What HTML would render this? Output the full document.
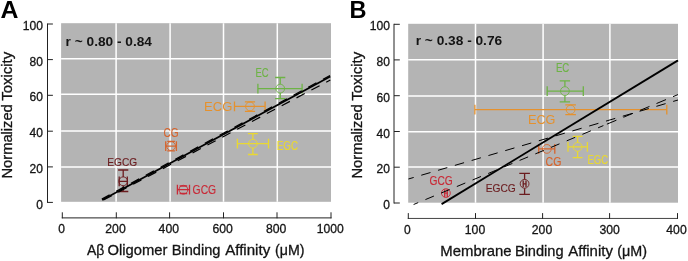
<!DOCTYPE html>
<html lang="en"><head><meta charset="utf-8"><title>Figure</title>
<style>
html,body{margin:0;padding:0;background:#fff;}
body{width:688px;height:261px;overflow:hidden;}
svg{display:block;will-change:transform;font-family:"Liberation Sans",sans-serif;}
</style></head><body>
<svg width="688" height="261" viewBox="0 0 688 261">
<rect width="688" height="261" fill="#fff"/>
<rect x="61.1" y="23.2" width="269.9" height="178.6" fill="#b4b4b4"/>
<path stroke="#fff" stroke-width="1.5" fill="none" d="M61.1 58.7H331.0M61.1 94.3H331.0M61.1 130.9H331.0M61.1 166.9H331.0M116.1 23.2V201.8M170.1 23.2V201.8M223.5 23.2V201.8M277.3 23.2V201.8"/>
<path stroke="#222" stroke-width="1" fill="none" d="M47.5 23.5V202.9M47.5 24.0H52.9M47.5 59.6H52.9M47.5 95.3H52.9M47.5 131.2H52.9M47.5 166.9H52.9M47.5 202.4H52.9M62.3 212.3V218.3M116.3 212.3V218.3M169.6 212.3V218.3M223.5 212.3V218.3M277.0 212.3V218.3M331.0 212.3V218.3"/>
<path stroke="#222" stroke-width="1.0" fill="none" d="M61.8 217.9H331.5"/>
<text x="42.9" y="30.1" font-size="12.7" fill="#141414" stroke="#141414" stroke-width="0.3" text-anchor="end" textLength="20.2" lengthAdjust="spacingAndGlyphs">100</text>
<text x="42.9" y="65.7" font-size="12.7" fill="#141414" stroke="#141414" stroke-width="0.3" text-anchor="end" textLength="13.4" lengthAdjust="spacingAndGlyphs">80</text>
<text x="42.9" y="101.4" font-size="12.7" fill="#141414" stroke="#141414" stroke-width="0.3" text-anchor="end" textLength="13.4" lengthAdjust="spacingAndGlyphs">60</text>
<text x="42.9" y="137.3" font-size="12.7" fill="#141414" stroke="#141414" stroke-width="0.3" text-anchor="end" textLength="13.4" lengthAdjust="spacingAndGlyphs">40</text>
<text x="42.9" y="173.0" font-size="12.7" fill="#141414" stroke="#141414" stroke-width="0.3" text-anchor="end" textLength="13.4" lengthAdjust="spacingAndGlyphs">20</text>
<text x="42.9" y="208.5" font-size="12.7" fill="#141414" stroke="#141414" stroke-width="0.3" text-anchor="end" textLength="6.7" lengthAdjust="spacingAndGlyphs">0</text>
<text x="61.5" y="233.1" font-size="12.7" fill="#141414" stroke="#141414" stroke-width="0.3" text-anchor="middle" textLength="6.7" lengthAdjust="spacingAndGlyphs">0</text>
<text x="115.5" y="233.1" font-size="12.7" fill="#141414" stroke="#141414" stroke-width="0.3" text-anchor="middle" textLength="20.4" lengthAdjust="spacingAndGlyphs">200</text>
<text x="168.8" y="233.1" font-size="12.7" fill="#141414" stroke="#141414" stroke-width="0.3" text-anchor="middle" textLength="20.4" lengthAdjust="spacingAndGlyphs">400</text>
<text x="222.7" y="233.1" font-size="12.7" fill="#141414" stroke="#141414" stroke-width="0.3" text-anchor="middle" textLength="20.4" lengthAdjust="spacingAndGlyphs">600</text>
<text x="276.2" y="233.1" font-size="12.7" fill="#141414" stroke="#141414" stroke-width="0.3" text-anchor="middle" textLength="20.4" lengthAdjust="spacingAndGlyphs">800</text>
<text x="330.2" y="233.1" font-size="12.7" fill="#141414" stroke="#141414" stroke-width="0.3" text-anchor="middle" textLength="27.0" lengthAdjust="spacingAndGlyphs">1000</text>
<text x="-178.5" y="0" font-size="14.2" fill="#141414" stroke="#141414" stroke-width="0.3" textLength="74.25" lengthAdjust="spacingAndGlyphs" transform="translate(12.1 0) rotate(-90)">Normalized</text>
<text x="-100.73" y="0" font-size="14.2" fill="#141414" stroke="#141414" stroke-width="0.3" textLength="48.96" lengthAdjust="spacingAndGlyphs" transform="translate(12.1 0) rotate(-90)">Toxicity</text>
<text x="86.97" y="254.7" font-size="14.2" fill="#141414" stroke="#141414" stroke-width="0.3" textLength="17.38" lengthAdjust="spacingAndGlyphs">Aβ</text>
<text x="107.51" y="254.7" font-size="14.2" fill="#141414" stroke="#141414" stroke-width="0.3" textLength="59.93" lengthAdjust="spacingAndGlyphs">Oligomer</text>
<text x="171.7" y="254.7" font-size="14.2" fill="#141414" stroke="#141414" stroke-width="0.3" textLength="48.84" lengthAdjust="spacingAndGlyphs">Binding</text>
<text x="225.17" y="254.7" font-size="14.2" fill="#141414" stroke="#141414" stroke-width="0.3" textLength="45.06" lengthAdjust="spacingAndGlyphs">Affinity</text>
<text x="275.12" y="254.7" font-size="14.2" fill="#141414" stroke="#141414" stroke-width="0.3" textLength="29.46" lengthAdjust="spacingAndGlyphs">(μM)</text>
<text x="0.5" y="18.2" font-size="24.4" fill="#000" font-weight="bold" textLength="17.95" lengthAdjust="spacingAndGlyphs">A</text>
<text x="65.61" y="46.2" font-size="13.0" fill="#141414" font-weight="bold" textLength="86.36" lengthAdjust="spacingAndGlyphs">r ~ 0.80 - 0.84</text>
<g stroke="#6db345" stroke-width="1.3" fill="none"><circle cx="280.2" cy="88.6" r="4.4" stroke-width="0.9"/><path d="M257.9 88.6H302.1M257.9 83.7V93.5M302.1 83.7V93.5M280.2 77.5V84.2M280.2 93.0V98.7M275.1 77.5H285.3M275.1 98.7H285.3"/></g>
<text x="255.43" y="76.8" font-size="12.4" fill="#6db345" stroke="#6db345" stroke-width="0.15" textLength="13.13" lengthAdjust="spacingAndGlyphs">EC</text>
<g stroke="#e5912d" stroke-width="1.3" fill="none"><circle cx="250.0" cy="106.4" r="4.4" stroke-width="0.9"/><path d="M234.5 106.4H265.1M234.5 101.5V111.3M265.1 101.5V111.3M250.0 110.8V111.3M244.9 101.8H255.1M244.9 111.3H255.1"/></g>
<text x="204.13" y="110.7" font-size="12.4" fill="#e5912d" textLength="28.34" lengthAdjust="spacingAndGlyphs">ECG</text>
<g stroke="#e9d832" stroke-width="1.3" fill="none"><circle cx="252.9" cy="143.7" r="4.4" stroke-width="0.9"/><path d="M237.4 143.7H268.5M237.4 138.8V148.6M268.5 138.8V148.6M252.9 133.7V139.3M252.9 148.1V154.5M248.0 133.7H257.8M248.0 154.5H257.8"/></g>
<text x="276.8" y="149.7" font-size="12.4" fill="#e9d832" stroke="#e9d832" stroke-width="0.15" textLength="21.27" lengthAdjust="spacingAndGlyphs">EGC</text>
<g stroke="#d6642d" stroke-width="1.3" fill="none"><circle cx="171.1" cy="146.1" r="4.4" stroke-width="0.9"/><path d="M165.7 146.1H176.4M165.7 141.2V151.0M176.4 141.2V151.0M167.3 141.4H174.9M167.3 150.8H174.9"/></g>
<text x="163.59" y="136.7" font-size="12.4" fill="#d6642d" stroke="#d6642d" stroke-width="0.15" textLength="15.15" lengthAdjust="spacingAndGlyphs">CG</text>
<g stroke="#6b1c1f" stroke-width="1.3" fill="none"><circle cx="123.2" cy="181.3" r="4.4" stroke-width="0.9"/><path d="M119.2 181.3H127.3M119.2 176.4V186.2M127.3 176.4V186.2M123.2 170.0V176.9M123.2 185.7V191.5M118.1 170.0H128.3M118.1 191.5H128.3"/></g>
<text x="107.27" y="165.5" font-size="11.8" fill="#6b1c1f" stroke="#6b1c1f" stroke-width="0.15" textLength="29.88" lengthAdjust="spacingAndGlyphs">EGCG</text>
<g stroke="#c92a37" stroke-width="1.3" fill="none"><circle cx="183.4" cy="189.7" r="4.4" stroke-width="0.9"/><path d="M177.4 189.7H189.5M177.4 184.8V194.6M189.5 184.8V194.6M179.6 186.0H187.2M179.6 193.5H187.2"/></g>
<text x="192.58" y="194.0" font-size="12.4" fill="#c92a37" stroke="#c92a37" stroke-width="0.15" textLength="23.58" lengthAdjust="spacingAndGlyphs">GCG</text>
<g stroke="#000" fill="none">
<path stroke-width="1.7" d="M102.2 199.9L330.3 76.5"/>
<path stroke-width="1.2" stroke-dasharray="9.3 7.5" stroke-dashoffset="15.8" d="M102.6 200.5L330.3 80.0"/>
<path stroke-width="1.2" stroke-dasharray="9.3 7.5" stroke-dashoffset="0.4" d="M101.8 199.1L330.0 75.5"/>
</g>
<rect x="408.2" y="23.8" width="269.8" height="178.9" fill="#b4b4b4"/>
<path stroke="#fff" stroke-width="1.5" fill="none" d="M408.2 59.7H678.0M408.2 95.9H678.0M408.2 131.8H678.0M408.2 167.0H678.0M475.5 23.8V202.7M543.1 23.8V202.7M609.9 23.8V202.7"/>
<path stroke="#222" stroke-width="1" fill="none" d="M394.0 23.8V203.5M394.0 24.3H399.8M394.0 59.9H399.8M394.0 95.7H399.8M394.0 131.5H399.8M394.0 167.2H399.8M394.0 203.0H399.8M408.3 213.1V218.85M475.5 213.1V218.85M542.6 213.1V218.85M609.6 213.1V218.85M677.5 213.1V218.85"/>
<path stroke="#222" stroke-width="0.85" fill="none" d="M407.8 218.45H678.0"/>
<text x="390.0" y="30.4" font-size="12.7" fill="#141414" stroke="#141414" stroke-width="0.3" text-anchor="end" textLength="20.2" lengthAdjust="spacingAndGlyphs">100</text>
<text x="390.0" y="66.0" font-size="12.7" fill="#141414" stroke="#141414" stroke-width="0.3" text-anchor="end" textLength="13.4" lengthAdjust="spacingAndGlyphs">80</text>
<text x="390.0" y="101.8" font-size="12.7" fill="#141414" stroke="#141414" stroke-width="0.3" text-anchor="end" textLength="13.4" lengthAdjust="spacingAndGlyphs">60</text>
<text x="390.0" y="137.6" font-size="12.7" fill="#141414" stroke="#141414" stroke-width="0.3" text-anchor="end" textLength="13.4" lengthAdjust="spacingAndGlyphs">40</text>
<text x="390.0" y="173.3" font-size="12.7" fill="#141414" stroke="#141414" stroke-width="0.3" text-anchor="end" textLength="13.4" lengthAdjust="spacingAndGlyphs">20</text>
<text x="390.0" y="209.1" font-size="12.7" fill="#141414" stroke="#141414" stroke-width="0.3" text-anchor="end" textLength="6.7" lengthAdjust="spacingAndGlyphs">0</text>
<text x="407.3" y="234.1" font-size="12.7" fill="#141414" stroke="#141414" stroke-width="0.3" text-anchor="middle" textLength="6.7" lengthAdjust="spacingAndGlyphs">0</text>
<text x="475.0" y="234.1" font-size="12.7" fill="#141414" stroke="#141414" stroke-width="0.3" text-anchor="middle" textLength="20.4" lengthAdjust="spacingAndGlyphs">100</text>
<text x="542.0" y="234.1" font-size="12.7" fill="#141414" stroke="#141414" stroke-width="0.3" text-anchor="middle" textLength="20.4" lengthAdjust="spacingAndGlyphs">200</text>
<text x="609.6" y="234.1" font-size="12.7" fill="#141414" stroke="#141414" stroke-width="0.3" text-anchor="middle" textLength="20.4" lengthAdjust="spacingAndGlyphs">300</text>
<text x="676.5" y="234.1" font-size="12.7" fill="#141414" stroke="#141414" stroke-width="0.3" text-anchor="middle" textLength="20.4" lengthAdjust="spacingAndGlyphs">400</text>
<text x="-178.5" y="0" font-size="14.2" fill="#141414" stroke="#141414" stroke-width="0.3" textLength="74.25" lengthAdjust="spacingAndGlyphs" transform="translate(361.6 0) rotate(-90)">Normalized</text>
<text x="-100.73" y="0" font-size="14.2" fill="#141414" stroke="#141414" stroke-width="0.3" textLength="48.96" lengthAdjust="spacingAndGlyphs" transform="translate(361.6 0) rotate(-90)">Toxicity</text>
<text x="440.38" y="255.7" font-size="14.2" fill="#141414" stroke="#141414" stroke-width="0.3" textLength="71.17" lengthAdjust="spacingAndGlyphs">Membrane</text>
<text x="514.9" y="255.7" font-size="14.2" fill="#141414" stroke="#141414" stroke-width="0.3" textLength="48.73" lengthAdjust="spacingAndGlyphs">Binding</text>
<text x="568.27" y="255.7" font-size="14.2" fill="#141414" stroke="#141414" stroke-width="0.3" textLength="44.66" lengthAdjust="spacingAndGlyphs">Affinity</text>
<text x="617.21" y="255.7" font-size="14.2" fill="#141414" stroke="#141414" stroke-width="0.3" textLength="29.78" lengthAdjust="spacingAndGlyphs">(μM)</text>
<text x="349.54" y="18.2" font-size="24.4" fill="#000" font-weight="bold" textLength="17.02" lengthAdjust="spacingAndGlyphs">B</text>
<text x="415.71" y="45.4" font-size="13.0" fill="#141414" font-weight="bold" textLength="86.47" lengthAdjust="spacingAndGlyphs">r ~ 0.38 - 0.76</text>
<g stroke="#6db345" stroke-width="1.3" fill="none"><circle cx="564.9" cy="91.1" r="4.4" stroke-width="0.9"/><path d="M547.2 91.1H583.3M547.2 86.2V96.0M583.3 86.2V96.0M564.9 80.8V86.7M564.9 95.5V101.8M559.7 80.8H570.1M559.7 101.8H570.1"/></g>
<text x="555.91" y="71.5" font-size="12.4" fill="#6db345" stroke="#6db345" stroke-width="0.15" textLength="13.34" lengthAdjust="spacingAndGlyphs">EC</text>
<g stroke="#e5912d" stroke-width="1.3" fill="none"><circle cx="570.6" cy="109.6" r="4.4" stroke-width="0.9"/><path d="M474.9 109.6H666.8M474.9 104.7V114.5M666.8 104.7V114.5M570.6 104.8V105.2M570.6 114.0V114.6M565.3 104.8H575.9M565.3 114.6H575.9"/></g>
<text x="527.96" y="123.6" font-size="12.4" fill="#e5912d" textLength="27.48" lengthAdjust="spacingAndGlyphs">ECG</text>
<g stroke="#e9d832" stroke-width="1.3" fill="none"><circle cx="577.6" cy="146.9" r="4.4" stroke-width="0.9"/><path d="M568.0 146.9H587.4M568.0 142.0V151.8M587.4 142.0V151.8M577.6 136.4V142.5M577.6 151.3V157.7M572.7 136.4H582.5M572.7 157.7H582.5"/></g>
<text x="587.52" y="164.2" font-size="12.4" fill="#e9d832" stroke="#e9d832" stroke-width="0.15" textLength="20.63" lengthAdjust="spacingAndGlyphs">EGC</text>
<g stroke="#d6642d" stroke-width="1.3" fill="none"><circle cx="546.8" cy="148.9" r="4.4" stroke-width="0.9"/><path d="M538.7 148.9H554.8M538.7 144.0V153.8M554.8 144.0V153.8"/></g>
<text x="545.57" y="165.6" font-size="12.4" fill="#d6642d" stroke="#d6642d" stroke-width="0.15" textLength="15.81" lengthAdjust="spacingAndGlyphs">CG</text>
<g stroke="#6b1c1f" stroke-width="1.3" fill="none"><circle cx="524.6" cy="183.8" r="4.4" stroke-width="0.9"/><path d="M523.2 183.8H526.0M523.2 180.5V187.1M526.0 180.5V187.1M524.6 173.3V179.4M524.6 188.2V194.3M519.3 173.3H529.9M519.3 194.3H529.9"/></g>
<text x="485.66" y="192.3" font-size="11.8" fill="#6b1c1f" stroke="#6b1c1f" stroke-width="0.15" textLength="30.09" lengthAdjust="spacingAndGlyphs">EGCG</text>
<g stroke="#c92a37" stroke-width="1.3" fill="none"><circle cx="445.9" cy="193.1" r="4.4" stroke-width="0.9"/><path d="M444.7 193.1H447.3M444.7 189.3V196.9M447.3 189.3V196.9"/></g>
<text x="429.59" y="185.2" font-size="12.4" fill="#c92a37" stroke="#c92a37" stroke-width="0.15" textLength="23.16" lengthAdjust="spacingAndGlyphs">GCG</text>
<g stroke="#000" fill="none">
<path stroke-width="1.85" d="M441.6 204.1L678 60.4"/>
<path stroke-width="1.0" stroke-dasharray="9.6 7.9" stroke-dashoffset="4.1" d="M408.4 179.0L678 100.0"/>
<path stroke-width="1.0" stroke-dasharray="9.2 7.8" stroke-dashoffset="4.2" d="M413.6 204.5 L603.4 125.6"/>
<path stroke-width="1.0" stroke-dasharray="10.3 7.6" d="M606.9 124.15 L678 94.59"/>
</g>
</svg></body></html>
